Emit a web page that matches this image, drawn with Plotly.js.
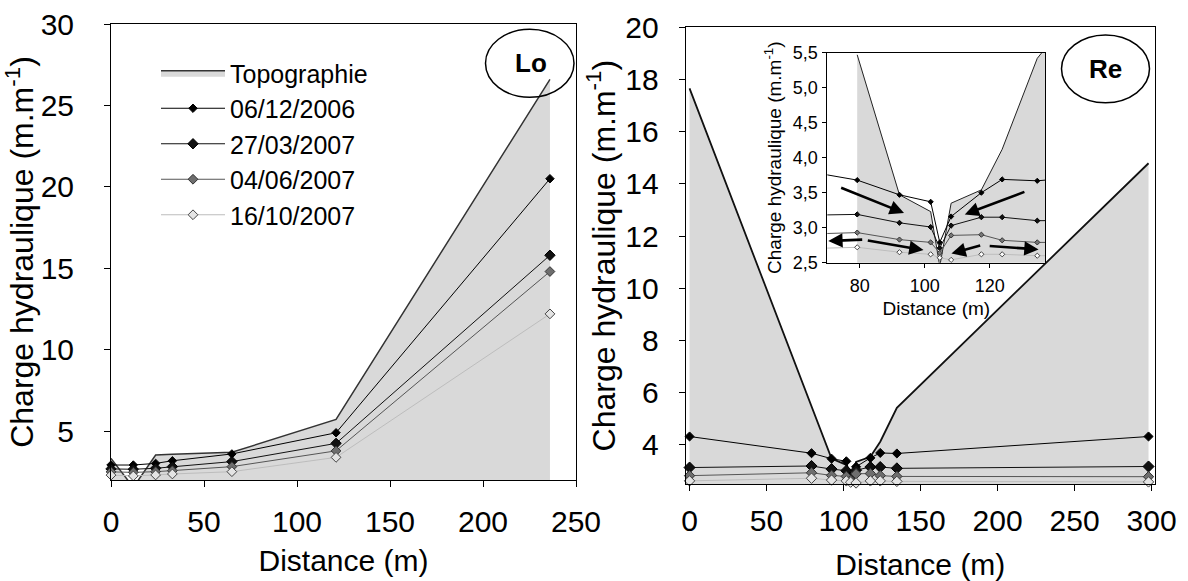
<!DOCTYPE html>
<html>
<head>
<meta charset="utf-8">
<script src="https://cdn.plot.ly/plotly-3.0.1.min.js"></script>
<style>html,body{margin:0;padding:0;background:#fff;}#chart{width:1188px;height:581px;}</style>
</head>
<body>
<div id="chart"></div>
<script>
// ---------- data ----------
const dates = ['06/12/2006', '27/03/2007', '04/06/2007', '16/10/2007'];
const topoName = 'Topographie';

// Lo site
const loX = [0, 12, 24, 33, 65, 121, 236];
const loTopo = [3.33, 1.55, 3.53, 3.58, 3.70, 5.72, 26.6];
const lo0612 = [2.92, 2.92, 3.02, 3.18, 3.60, 4.90, 20.5];
const lo2703 = [2.68, 2.66, 2.72, 2.82, 3.13, 4.25, 15.8];
const lo0406 = [2.50, 2.47, 2.51, 2.57, 2.82, 3.79, 14.8];
const lo1610 = [2.30, 2.25, 2.31, 2.37, 2.51, 3.39, 12.2];

// Re site
const reX = [0, 79.2, 92.2, 101.8, 104.6, 108.1, 117.4, 123.8, 134.6, 298];
const reTopo = [17.66, 5.47, 3.47, 3.23, 2.45, 3.35, 3.54, 4.12, 5.42, 14.79];
const re0612 = [4.32, 3.68, 3.47, 3.37, 2.79, 3.16, 3.50, 3.69, 3.67, 4.32];
const re2703 = [3.13, 3.19, 3.07, 3.01, 2.71, 3.03, 3.15, 3.15, 3.10, 3.17];
const re0406 = [2.82, 2.93, 2.83, 2.79, 2.64, 2.89, 2.90, 2.82, 2.79, 2.78];
const re1610 = [2.62, 2.72, 2.65, 2.62, 2.57, 2.54, 2.62, 2.62, 2.60, 2.58];

// inset arrows (tail -> head), inset data coordinates
const arrowTailX = [73.8, 131.1, 81.2, 82.0, 117.5, 119.5];
const arrowTailY = [3.58, 3.52, 2.83, 2.82, 2.75, 2.74];
const arrowHeadX = [93.6, 112.3, 70.3, 99.6, 108.2, 135.0];
const arrowHeadY = [3.21, 3.19, 2.81, 2.68, 2.63, 2.69];

// ---------- styles ----------
const W = 1188, H = 581, ML = 111, MR = 33, MT = 24, MB = 97;
const PW = W - ML - MR, PH = H - MT - MB;
const px = v => (v - ML) / PW;
const py = v => (H - MB - v) / PH;

const FONT = 'Liberation Sans, Arial, Helvetica, sans-serif';
const fillGray = '#d9d9d9';
const seriesStyle = [
  {line: '#000000', fill: '#000000', mline: '#000000', size: 6.5},
  {line: '#111111', fill: '#111111', mline: '#000000', size: 8},
  {line: '#555555', fill: '#6e6e6e', mline: '#333333', size: 7.5},
  {line: '#bdbdbd', fill: '#e4e4e4', mline: '#444444', size: 7.5}
];
const insetStyle = [
  {line: '#000000', fill: '#000000', mline: '#000000', size: 4},
  {line: '#111111', fill: '#111111', mline: '#000000', size: 4},
  {line: '#555555', fill: '#777777', mline: '#333333', size: 4},
  {line: '#bdbdbd', fill: '#ffffff', mline: '#444444', size: 4}
];

const loSeries = [lo0612, lo2703, lo0406, lo1610];
const reSeries = [re0612, re2703, re0406, re1610];

const traces = [];
traces.push({
  x: loX, y: loTopo, xaxis: 'x', yaxis: 'y', type: 'scatter', mode: 'lines',
  fill: 'tozeroy', fillcolor: fillGray, line: {color: '#333', width: 1.5},
  name: topoName, showlegend: true, hoverinfo: 'skip'
});
loSeries.forEach((s, i) => {
  const st = seriesStyle[i];
  traces.push({
    x: loX, y: s, xaxis: 'x', yaxis: 'y', type: 'scatter', mode: 'lines+markers',
    name: dates[i], showlegend: true, cliponaxis: false,
    line: {color: st.line, width: 1},
    marker: {symbol: 'diamond', size: st.size, color: st.fill, line: {color: st.mline, width: 1}}
  });
});
traces.push({
  x: reX, y: reTopo, xaxis: 'x2', yaxis: 'y2', type: 'scatter', mode: 'lines',
  fill: 'tozeroy', fillcolor: fillGray, line: {color: '#111', width: 1.8},
  name: topoName, showlegend: false, hoverinfo: 'skip'
});
reSeries.forEach((s, i) => {
  const st = seriesStyle[i];
  traces.push({
    x: reX, y: s, xaxis: 'x2', yaxis: 'y2', type: 'scatter', mode: 'lines+markers',
    name: dates[i], showlegend: false, cliponaxis: false,
    line: {color: st.line, width: 1},
    marker: {symbol: 'diamond', size: st.size + 0.5, color: st.fill, line: {color: st.mline, width: 1}}
  });
});
// inset
traces.push({
  x: reX.slice(1), y: reTopo.slice(1), xaxis: 'x3', yaxis: 'y3', type: 'scatter', mode: 'lines',
  fill: 'tozeroy', fillcolor: fillGray, line: {color: '#222', width: 1},
  name: topoName, showlegend: false, hoverinfo: 'skip'
});
reSeries.forEach((s, i) => {
  const st = insetStyle[i];
  traces.push({
    x: reX, y: s, xaxis: 'x3', yaxis: 'y3', type: 'scatter', mode: 'lines+markers',
    name: dates[i], showlegend: false, cliponaxis: true,
    line: {color: st.line, width: 1},
    marker: {symbol: 'diamond', size: st.size, color: st.fill, line: {color: st.mline, width: 1}}
  });
});

const axBase = {
  showline: true, linecolor: '#000', linewidth: 1, mirror: true,
  ticks: 'outside', ticklen: 6, tickcolor: '#000', tickwidth: 1,
  showgrid: false, zeroline: false, fixedrange: true,
  tickfont: {family: FONT, size: 30, color: '#000'}
};
const yTitle = 'Charge hydraulique (m.m<sup>-1</sup>)';

const annotations = [
  {xref: 'paper', yref: 'paper', x: px(530.5), y: py(63), text: '<b>Lo</b>', showarrow: false,
   font: {family: FONT, size: 26, color: '#000'}, xanchor: 'center', yanchor: 'middle'},
  {xref: 'paper', yref: 'paper', x: px(1105), y: py(68.5), text: '<b>Re</b>', showarrow: false,
   font: {family: FONT, size: 26, color: '#000'}, xanchor: 'center', yanchor: 'middle'}
];
for (let i = 0; i < arrowTailX.length; i++) {
  annotations.push({
    xref: 'x3', yref: 'y3', axref: 'x3', ayref: 'y3',
    x: arrowHeadX[i], y: arrowHeadY[i], ax: arrowTailX[i], ay: arrowTailY[i],
    text: '', showarrow: true, arrowhead: 2, arrowsize: 1.1, arrowwidth: 2.6, arrowcolor: '#000'
  });
}

const layout = {
  width: W, height: H,
  margin: {l: ML, r: MR, t: MT, b: MB, pad: 0},
  paper_bgcolor: '#fff', plot_bgcolor: '#fff',
  font: {family: FONT, color: '#000'},
  separators: ',.',
  showlegend: true,
  legend: {
    x: px(156), y: py(50), xanchor: 'left', yanchor: 'top',
    bgcolor: 'rgba(0,0,0,0)', borderwidth: 0,
    font: {family: FONT, size: 25, color: '#000'},
    itemwidth: 64, tracegroupgap: 0
  },
  xaxis: Object.assign({}, axBase, {
    anchor: 'y', domain: [0, px(576)], range: [0, 250], dtick: 50, tick0: 0,
    ticklabelstandoff: 9,
    title: {text: 'Distance (m)', font: {family: FONT, size: 30}, standoff: 12}
  }),
  yaxis: Object.assign({}, axBase, {
    anchor: 'x', domain: [py(480), 1], range: [2, 30], dtick: 5, tick0: 0,
    ticklabelstandoff: 24,
    title: {text: yTitle, font: {family: FONT, size: 32}, standoff: 0}
  }),
  xaxis2: Object.assign({}, axBase, {
    anchor: 'y2', domain: [px(685.7), 1], range: [-2.5, 302.2], dtick: 50, tick0: 0,
    ticklabelstandoff: 4,
    title: {text: 'Distance (m)', font: {family: FONT, size: 30}, standoff: 30}
  }),
  yaxis2: Object.assign({}, axBase, {
    anchor: 'x2', domain: [0, py(27.3)], range: [2.5, 20], dtick: 2, tick0: 0,
    ticklabelstandoff: 14,
    title: {text: yTitle, font: {family: FONT, size: 32}, standoff: 0}
  }),
  xaxis3: Object.assign({}, axBase, {
    anchor: 'y3', domain: [px(827.3), px(1045.4)], range: [70, 137.1], dtick: 20, tick0: 0,
    ticklen: 4, ticklabelstandoff: 3,
    tickfont: {family: FONT, size: 18, color: '#000'},
    title: {text: 'Distance (m)', font: {family: FONT, size: 19}, standoff: 6}
  }),
  yaxis3: Object.assign({}, axBase, {
    anchor: 'x3', domain: [py(262.7), py(52.7)], range: [2.5, 5.5], dtick: 0.5, tick0: 0,
    tickformat: '.1f', ticklen: 4, ticklabelstandoff: 1,
    tickfont: {family: FONT, size: 18, color: '#000'},
    title: {text: yTitle, font: {family: FONT, size: 19}, standoff: 6}
  }),
  shapes: [
    {type: 'circle', xref: 'paper', yref: 'paper', x0: px(485.5), x1: px(574), y0: py(97.3), y1: py(29.3),
     line: {color: '#000', width: 1.5}, fillcolor: 'rgba(0,0,0,0)', layer: 'above'},
    {type: 'circle', xref: 'paper', yref: 'paper', x0: px(1061.5), x1: px(1149.5), y0: py(102.7), y1: py(35),
     line: {color: '#000', width: 1.5}, fillcolor: 'rgba(0,0,0,0)', layer: 'above'}
  ],
  annotations: annotations
};

Plotly.newPlot('chart', traces, layout, {displayModeBar: false, staticPlot: true});
</script>
</body>
</html>
